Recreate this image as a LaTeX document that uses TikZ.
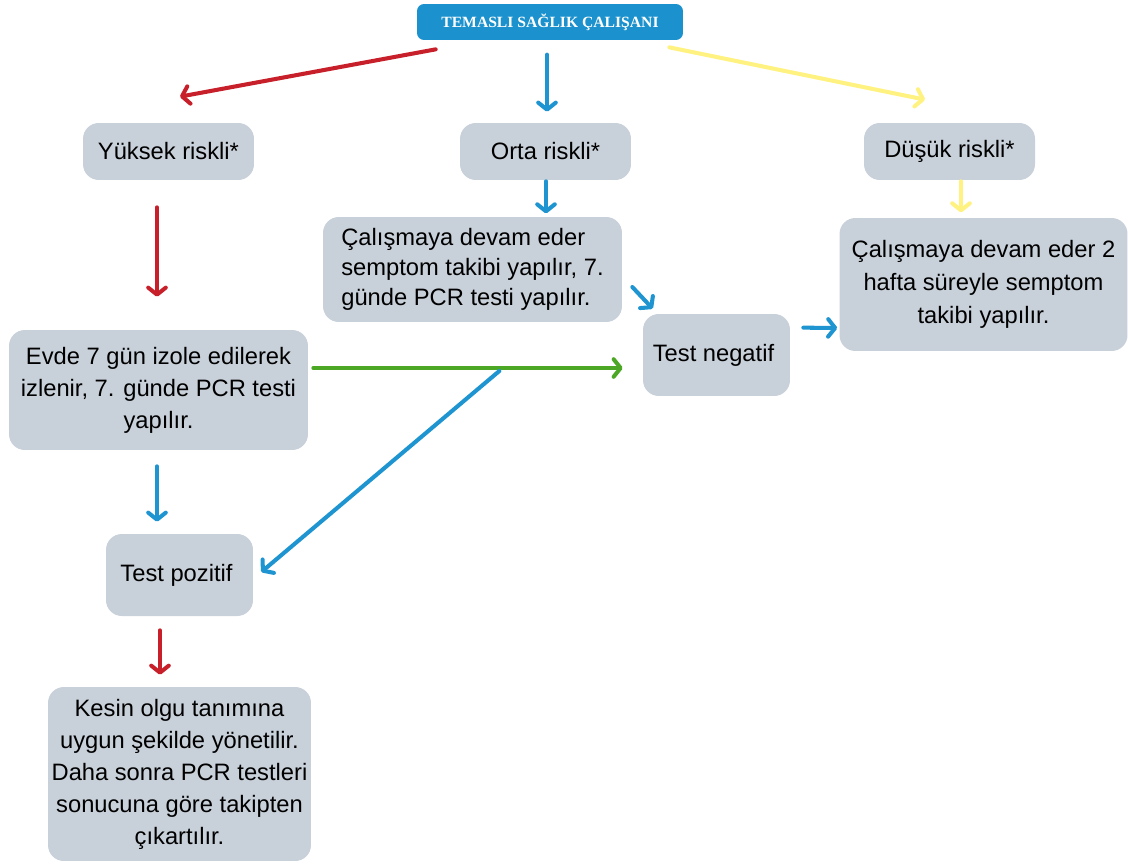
\documentclass[tikz,border=0pt]{standalone}
\usepackage{fontspec}
\setmainfont{Liberation Sans}
\newfontfamily\titlefont{Liberation Serif}
\usetikzlibrary{arrows.meta, calc}

\definecolor{boxgray}{RGB}{200,208,217}
\definecolor{headblue}{RGB}{27,145,206}
\definecolor{arrred}{RGB}{200,32,42}
\definecolor{arrblue}{RGB}{30,148,208}
\definecolor{arrgreen}{RGB}{76,168,36}
\definecolor{arryellow}{RGB}{255,242,128}

\begin{document}
\begin{tikzpicture}[
    x=0.02cm, y=-0.02cm,
    % Box styling
    base/.style={
        fill=boxgray,
        draw=none,
        rounded corners=9pt,
        inner sep=0pt,
        font=\fontsize{13.5}{18.2}\selectfont
    },
    smallbox/.style={base, minimum width=3.42cm, minimum height=1.14cm},
    testbox/.style={base, minimum width=2.94cm, minimum height=1.64cm},
    textbox/.style={base, align=center},
    headbox/.style={
        fill=headblue, rounded corners=4pt, text=white,
        minimum width=5.32cm, minimum height=0.72cm, inner sep=0pt,
        font=\titlefont\bfseries\fontsize{8.9}{10}\selectfont
    },
    % Arrow styling
    flow/.style={line width=2.3pt, line cap=round,
        -{Straight Barb[length=4pt, width=10pt, round]}},
    redflow/.style={flow, draw=arrred},
    blueflow/.style={flow, draw=arrblue},
    greenflow/.style={flow, draw=arrgreen},
    yellowflow/.style={flow, draw=arryellow}
]
    \useasboundingbox (0,0) rectangle (1128,865);

    % ==========================================
    % 1. HEADER AND RISK LEVELS
    % ==========================================
    \node[headbox] (title) at (550,22) {TEMASLI SAĞLIK ÇALIŞANI};

    \node[smallbox] (yuksek) at (168.5,151.5) {Yüksek riskli*};
    \node[smallbox] (orta) at (545.5,151.5) {Orta riskli*};
    \node[smallbox] (dusuk) at (949.5,151.5) {Düşük riskli*};

    % ==========================================
    % 2. FOLLOW-UP BOXES
    % ==========================================
    \node[textbox, align=left, minimum width=5.98cm, minimum height=2.1cm, font=\fontsize{13.5}{17}\selectfont] (ortatxt) at (472.5,269.5)
        {Çalışmaya devam eder\\semptom takibi yapılır, 7.\\günde PCR testi yapılır.};
    \node[textbox, minimum width=5.76cm, minimum height=2.66cm, font=\fontsize{13.5}{18.8}\selectfont] (dusuktxt) at (983.5,284.5)
        {Çalışmaya devam eder 2\\hafta süreyle semptom\\takibi yapılır.};
    \node[testbox] (testneg) at (716.5,355) {Test negatif\hspace*{0.12cm}};
    \node[textbox, minimum width=5.98cm, minimum height=2.4cm] (evde) at (158.5,390)
        {Evde 7 gün izole edilerek\\izlenir, 7. günde PCR testi\\yapılır.};
    \node[testbox] (testpoz) at (179.5,575) {Test pozitif\hspace*{0.12cm}};
    \node[textbox, minimum width=5.26cm, minimum height=3.48cm] (kesin) at (179.5,774)
        {Kesin olgu tanımına\\uygun şekilde yönetilir.\\Daha sonra PCR testleri\\sonucuna göre takipten\\çıkartılır.};

    % ==========================================
    % 3. CONNECTIONS
    % ==========================================
    \draw[redflow] ($(title.south west)+(19,9)$) -- ($(yuksek.north)+(11.5,-26)$);
    \draw[blueflow] ($(orta.north)+(1.5,-68)$) -- ($(orta.north)+(1.5,-11)$);
    \draw[yellowflow] ($(title.south east)+(-14,7)$) -- ($(dusuk.north)+(-24.5,-23)$);

    \draw[redflow] ($(yuksek.south)+(-11.5,27)$) -- ($(evde.north)+(-1.5,-33)$);
    \draw[blueflow] ($(orta.south)+(0.5,1)$) -- ($(orta.south)+(0.5,33)$);
    \draw[yellowflow] ($(dusuk.south)+(11.5,1)$) -- ($(dusuk.south)+(11.5,32)$);

    \draw[blueflow] ($(ortatxt.east)+(10,17.5)$) -- ($(testneg.north west)+(10,-5)$);
    \draw[blueflow] ($(testneg.north east)+(13,14)$) -- ($(dusuktxt.west)+(-2,43.5)$);

    \draw[greenflow] ($(evde.east)+(5,-22)$) -- ($(testneg.west)+(-20,13)$);
    \draw[blueflow] ($(evde.east)+(191,-19)$) -- ($(testpoz.east)+(8,-3)$);

    \draw[blueflow] ($(evde.south)+(-1.5,16)$) -- ($(testpoz.north)+(-22.5,-12)$);
    \draw[redflow] ($(testpoz.south)+(-19.5,14)$) -- ($(kesin.north)+(-19.5,-12)$);

\end{tikzpicture}
\end{document}
